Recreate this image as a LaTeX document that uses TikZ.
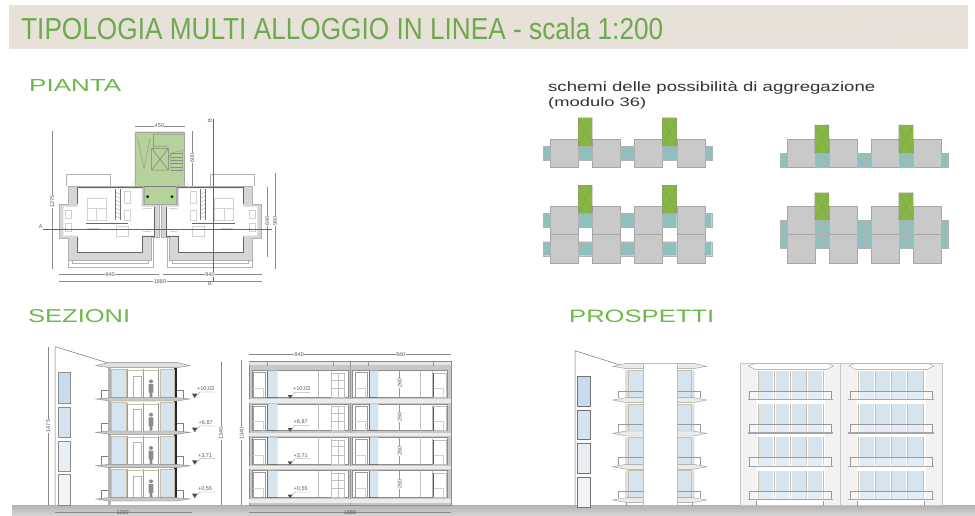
\documentclass[tikz,border=0pt]{standalone}
\usepackage{graphicx}
\usepackage{fontspec}
\setmainfont{Liberation Sans}
\definecolor{gtitle}{HTML}{6FA84F}
\definecolor{ghead}{HTML}{6CB84A}
\definecolor{banner}{HTML}{E7E1D8}
\definecolor{bgray}{HTML}{C9C9C9}
\definecolor{bteal}{HTML}{90C0BE}
\definecolor{bgreen}{HTML}{86B740}
\definecolor{stair}{HTML}{B5D29A}
\definecolor{glass}{HTML}{D6E4F0}
\definecolor{tan}{HTML}{C9BEA8}
\definecolor{wallg}{HTML}{D6D6D6}
\definecolor{dimc}{HTML}{8A8A8A}
\tikzset{
  dimlabel/.style={inner sep=0,font=\fontsize{5.5}{5.5}\selectfont,text=black!65},
  dimline/.style={draw=dimc,line width=0.35pt},
  thinl/.style={draw=black!30,line width=0.35pt},
  furn/.style={draw=black!18,line width=0.35pt},
  darkw/.style={draw=black!60,line width=0.8pt},
  grayblock/.style={fill=bgray,draw=black!35,line width=0.3pt},
  pane/.style={fill=glass,draw=tan,line width=0.7pt},
  zoomA/.style={shift={(0,60)},x=0.33333pt,y=-0.33333pt},
  zoomB/.style={shift={(520,70)},x=0.33333pt,y=-0.33333pt},
  zoomC/.style={shift={(20,330)},x=0.33333pt,y=-0.33333pt},
  zoomD/.style={shift={(235,340)},x=0.33333pt,y=-0.33333pt},
  zoomE/.style={shift={(560,340)},x=0.33333pt,y=-0.33333pt},
}
\newcommand{\planunit}{%
  \draw[thinl] (200,378)--(200,342)--(330,342)--(330,378);
  \draw[thinl] (205,600)--(205,622)--(460,622)--(460,535);
  \draw[thinl] (218,535)--(218,610)--(445,610)--(445,590);
  \fill[wallg,even odd rule] (205,378)--(430,378)--(430,432)--(478,432)--(478,533)--(455,533)--(455,600)--(205,600)--(205,535)--(178,535)--(178,432)--(205,432)--cycle
    (232,385)--(425,385)--(425,440)--(462,440)--(462,527)--(428,527)--(428,578)--(232,578)--(232,527)--(190,527)--(190,440)--(232,440)--cycle;
  \draw[thinl] (205,378)--(430,378)--(430,432)--(478,432)--(478,533)--(455,533)--(455,600)--(205,600)--(205,535)--(178,535)--(178,432)--(205,432)--cycle;
  \draw[darkw] (232,381)--(430,381) (232,381)--(232,432) (232,530)--(232,578)--(428,578)--(428,530)--(462,530) (462,440)--(462,530);
  \draw[darkw,line width=1.1pt] (258,490)--(385,490);
  \draw[draw=black!55,line width=0.6pt] (347,388)--(347,480) (362,388)--(362,480);
  \foreach \yy in {396,408,...,476} {\draw[draw=black!40,line width=0.3pt] (347,\yy)--(362,\yy+8);}
  \draw[furn] (262,415)--(318,415)--(318,482)--(262,482)--cycle (262,445)--(318,445) (290,445)--(290,482);
  \draw[furn] (372,395)--(392,395)--(392,430)--(372,430)--cycle (372,450)--(392,450)--(392,480)--(372,480)--cycle;
  \draw[furn] (350,500)--(385,500)--(385,530)--(350,530)--cycle (262,505)--(300,505) (430,445)--(455,445) (430,515)--(452,515);
  \draw[furn] (195,450)--(215,450)--(215,475)--(195,475)--cycle (195,490)--(215,490)--(215,515)--(195,515)--cycle;
  \draw[furn] (395,385) arc (180:270:35);
}
\newcommand{\persona}[2]{%
  \fill[black!45] (#1,#2-42) circle (6);
  \fill[black!45] (#1-7,#2-34) rectangle (#1+7,#2-8) (#1-4,#2-8) rectangle (#1+4,#2+6);
}
\begin{document}
\begin{tikzpicture}[x=1pt,y=-1pt]
\useasboundingbox (0,0) rectangle (975,515);
\fill[white] (0,0) rectangle (975,515);
% banner
\fill[banner] (9,5) rectangle (968,49);
\foreach \a/\b/\c in {30/20/240,120/30/330,640/12/850,800/27/940,860/16/960,180/40/500,520/36/900}
  {\draw[black!10,line width=0.6pt] (\a,\b)--(\c,\b);}
\node[anchor=base west,inner sep=0,text=gtitle] (title) at (21,39) {\resizebox{642pt}{22pt}{TIPOLOGIA MULTI ALLOGGIO IN LINEA - scala 1:200}};
% headers
\node[anchor=base west,inner sep=0,text=ghead] (hpianta) at (29,91) {\resizebox{92pt}{12pt}{PIANTA}};
\node[anchor=base west,inner sep=0,text=ghead] (hsez) at (28,322) {\resizebox{102pt}{13pt}{SEZIONI}};
\node[anchor=base west,inner sep=0,text=ghead] (hpro) at (569,322) {\resizebox{145pt}{12.5pt}{PROSPETTI}};
\node[anchor=base west,inner sep=0,text=black!80] (hsch1) at (548,91) {\resizebox{327pt}{10pt}{schemi delle possibilità di aggregazione}};
\node[anchor=base west,inner sep=0,text=black!80] (hsch2) at (548,106) {\resizebox{98pt}{9pt}{(modulo 36)}};
% ground
\fill[bottom color=black!17,top color=black!30] (12,505) rectangle (975,515);
% PLAN
\begin{scope}[zoomA]
  \planunit
  \begin{scope}[shift={(962,0)},xscale=-1]\planunit\end{scope}
  \fill[stair,draw=black!35,line width=0.3pt] (405,215)--(553,215)--(553,378)--(528,378)--(528,432)--(432,432)--(432,378)--(405,378)--cycle;
  \draw[black!50,line width=0.4pt] (432,378)--(528,378);
  \draw[black!50,line width=0.5pt] (455,265)--(505,265)--(505,330)--(455,330)--cycle (455,265)--(505,330) (505,265)--(455,330) (460,222)--(460,265) (460,222)--(550,222) (505,258)--(460,258);
  \draw[black!45,line width=0.4pt] (412,232)--(432,325)--(450,235);
  \foreach \yy in {280,290,...,330} {\draw[black!45,line width=0.3pt] (512,\yy)--(548,\yy);}
  \draw[black!45,line width=0.3pt] (505,300)--(512,280)--(548,270) (512,280)--(512,330) (548,270)--(548,330);
  \fill[black!75!green] (443,410) circle (5) (516,410) circle (5);
  % dims
  \draw[dimline] (157,213)--(157,628) (405,198)--(555,198) (577,213)--(577,378) (825,340)--(825,628) (802,380)--(802,590);
  \draw[dimline] (178,642)--(478,642) (490,642)--(785,642) (178,663)--(785,663);
  \draw[draw=black!60,line width=0.4pt] (130,508)--(815,508) (640,178)--(640,665);
  \node[dimlabel,rotate=90,fill=white,inner sep=0.5pt] (d1275) at (157,425) {1275};
  \node[dimlabel,fill=white,inner sep=0.5pt] (d450) at (478,198) {450};
  \node[dimlabel,rotate=90,fill=white,inner sep=0.5pt] (d600) at (577,295) {600};
  \node[dimlabel,rotate=90,fill=white,inner sep=0.5pt] (d640) at (802,483) {640};
  \node[dimlabel,rotate=90,fill=white,inner sep=0.5pt] (d960) at (825,483) {960};
  \node[dimlabel,fill=white,inner sep=0.5pt] (d940a) at (330,644) {940};
  \node[dimlabel,fill=white,inner sep=0.5pt] (d940b) at (630,644) {940};
  \node[dimlabel,fill=white,inner sep=0.5pt] (d1880) at (480,665) {1880};
  \node[dimlabel] (sa) at (122,500) {A};
  \node[dimlabel,rotate=90] (sb) at (630,181) {B};
  \node[dimlabel] (sb2) at (630,672) {B};
\end{scope}
% AGGREGATION SCHEMES
\begin{scope}[zoomB]
  % top left
  \foreach \a/\b in {90/173,217/300,342/427,470/554} {\fill[grayblock] (\a,207) rectangle (\b,291);}
  \foreach \a/\b in {69/90,174/217,300/342,427/470,554/575} {\fill[bteal] (\a,227) rectangle (\b,270); \draw[black!30,line width=0.3pt] (\a,227) rectangle (\b,270);}
  \foreach \a/\b in {175/217,427/470} {\fill[bgreen] (\a,143) rectangle (\b,228); \draw[black!45,line width=0.3pt] (\a,143) rectangle (\b,228) (\a,143)--(\b,228) (\b,143)--(\a,228);}
  \draw[black!30,line width=0.3pt] (195,228)--(195,270) (322,227)--(322,270) (448,228)--(448,270);
  % bottom left
  \foreach \a/\b in {90/173,217/300,342/427,470/554} {\fill[bgray] (\a,408) rectangle (\b,578); \draw[black!35,line width=0.3pt] (\a,408) rectangle (\b,578) (\a,493)--(\b,493);}
  \foreach \a/\b in {69/90,174/217,300/342,427/470,554/575} {\fill[bteal] (\a,430) rectangle (\b,472) (\a,515) rectangle (\b,557); \draw[black!30,line width=0.3pt] (\a,430) rectangle (\b,472) (\a,515) rectangle (\b,557);}
  \foreach \a/\b in {175/217,427/470} {\fill[bgreen] (\a,346) rectangle (\b,430); \draw[black!45,line width=0.3pt] (\a,346) rectangle (\b,430) (\a,346)--(\b,430) (\b,346)--(\a,430);}
  \draw[black!30,line width=0.3pt] (195,430)--(195,472) (322,430)--(322,472) (448,430)--(448,472) (195,515)--(195,557) (322,515)--(322,557) (448,515)--(448,557);
  % top right
  \foreach \a/\b in {800/884,927/1010,1052/1136,1180/1262} {\fill[bgray] (\a,207) rectangle (\b,291); \draw[black!35,line width=0.3pt] (\a,207) rectangle (\b,291);}
  \foreach \a/\b in {779/800,884/927,1010/1052,1136/1180,1262/1284} {\fill[bteal] (\a,249) rectangle (\b,291); \draw[black!30,line width=0.3pt] (\a,249) rectangle (\b,291);}
  \foreach \a/\b in {884/927,1136/1180} {\fill[bgreen] (\a,165) rectangle (\b,249); \draw[black!45,line width=0.3pt] (\a,165) rectangle (\b,249) (\a,165)--(\b,249) (\b,165)--(\a,249);}
  \draw[black!30,line width=0.3pt] (905,249)--(905,291) (1031,249)--(1031,291) (1158,249)--(1158,291);
  % bottom right
  \foreach \a/\b in {800/884,927/1010,1052/1136,1180/1262} {\fill[bgray] (\a,408) rectangle (\b,578); \draw[black!35,line width=0.3pt] (\a,408) rectangle (\b,578) (\a,493)--(\b,493);}
  \foreach \a/\b in {779/800,884/927,1010/1052,1136/1180,1262/1284} {\fill[bteal] (\a,450) rectangle (\b,535); \draw[black!30,line width=0.3pt] (\a,450) rectangle (\b,535) (\a,493)--(\b,493);}
  \foreach \a/\b in {884/927,1136/1180} {\fill[bgreen] (\a,368) rectangle (\b,450); \draw[black!45,line width=0.3pt] (\a,368) rectangle (\b,450) (\a,368)--(\b,450) (\b,368)--(\a,450);}
  \draw[black!30,line width=0.3pt] (905,450)--(905,535) (1031,450)--(1031,535) (1158,450)--(1158,535);
\end{scope}
% SECTION 1
\begin{scope}[zoomC]
  \draw[black!55,line width=0.5pt] (105,525)--(105,50)--(268,100);
  \foreach \t/\b/\c in {128/220/C9DCEF,232/322/D5E3F1,333/423/E9EEF5,433/525/F3F4F6}
    {\definecolor{wcol}{HTML}{\c}\fill[wcol] (115,\t) rectangle (150,\b); \draw[black!45,line width=0.5pt] (115,\t) rectangle (150,\b);}
  \fill[black!12] (228,107)--(268,97)--(470,97)--(510,107)--(470,113)--(268,113)--cycle;
  \draw[black!45,line width=0.4pt] (228,107)--(268,97)--(470,97)--(510,107)--(470,113)--(268,113)--cycle;
  \fill[black!30] (265,113) rectangle (272,525);
  \fill[black!85] (463,113) rectangle (470,505);
  \foreach \yy in {0,100,200,300} {
    \fill[pane] (275,118+\yy) rectangle (318,203+\yy) (420,118+\yy) rectangle (462,203+\yy);
    \draw[black!40,line width=0.4pt] (322,118+\yy)--(322,203+\yy) (370,118+\yy)--(370,203+\yy) (415,118+\yy)--(415,203+\yy);
    \draw[tan,line width=0.6pt] (322,122+\yy)--(415,122+\yy);
    \draw[black!30,line width=0.4pt] (340,203+\yy)--(340,138+\yy)--(365,138+\yy)--(365,203+\yy);
    \persona{393}{196+\yy}
    \draw[black!50,line width=0.5pt] (245,207+\yy)--(245,180+\yy)--(265,180+\yy) (470,180+\yy)--(490,180+\yy)--(490,207+\yy);
    \fill[black!22] (228,207+\yy)--(268,203+\yy)--(470,203+\yy)--(510,207+\yy)--(470,213+\yy)--(268,213+\yy)--cycle;
    \draw[black!45,line width=0.4pt] (228,207+\yy)--(268,203+\yy)--(470,203+\yy)--(510,207+\yy)--(470,213+\yy)--(268,213+\yy)--cycle;
  }
  \foreach \yy/\lab/\xx in {178/+10{,}03/555,280/+6{,}87/555,378/+3{,}71/553,478/+0{,}55/553} {
    \fill[black!70] (516,\yy+13)--(532,\yy+13)--(524,\yy+26)--cycle;
    \draw[black!50,line width=0.3pt] (524,\yy+26)--(540,\yy+8)--(585,\yy+8);
    \node[dimlabel] at (\xx+2,\yy) {\lab};
  }
  \draw[dimline] (85,50)--(85,525) (603,95)--(603,525) (665,90)--(665,525) (105,548)--(515,548);
  \node[dimlabel,rotate=90,fill=white,inner sep=0.5pt] (s1475) at (85,288) {1475};
  \node[dimlabel,rotate=90,fill=white,inner sep=0.5pt] (s1340a) at (603,310) {1340};
  \node[dimlabel,rotate=90,fill=white,inner sep=0.5pt] (s1340b) at (665,310) {1340};
  \node[dimlabel] (s1260) at (308,547) {1260};
\end{scope}
% SECTION 2
\begin{scope}[zoomD]
  \fill[black!22] (42,65) rectangle (648,495);
  \draw[black!45,line width=0.4pt] (42,65) rectangle (648,495);
  \fill[black!10] (42,65) rectangle (648,76);
  \draw[black!40,line width=0.3pt] (345,65)--(345,495) (95,65)--(95,78) (295,65)--(295,78) (400,65)--(400,78) (595,65)--(595,78);
  \foreach \yy in {0,100,200,300} {
    \fill[white] (52,92+\yy) rectangle (340,172+\yy) (352,92+\yy) rectangle (638,172+\yy);
    \draw[black!45,line width=0.35pt] (52,92+\yy) rectangle (340,172+\yy) (352,92+\yy) rectangle (638,172+\yy);
    \fill[black!8] (42,178+\yy) rectangle (648,188+\yy);
    \draw[black!40,line width=0.35pt] (55,98+\yy) rectangle (92,172+\yy) (360,98+\yy) rectangle (397,172+\yy);
    \draw[furn] (55,145+\yy)--(85,145+\yy)--(85,172+\yy) (360,145+\yy)--(390,145+\yy)--(390,172+\yy);
    \fill[glass] (98,92+\yy) rectangle (128,172+\yy) (402,92+\yy) rectangle (430,172+\yy);
    \draw[tan!60!black,line width=0.8pt] (98,92+\yy)--(98,172+\yy)--(128,172+\yy) (402,92+\yy)--(402,172+\yy)--(430,172+\yy);
    \draw[black!25,line width=0.35pt] (250,92+\yy)--(250,172+\yy) (288,92+\yy)--(288,172+\yy) (556,92+\yy)--(556,172+\yy) (592,92+\yy)--(592,172+\yy);
    \draw[black!25,line width=0.35pt] (290,100+\yy) rectangle (328,172+\yy) (290,120+\yy)--(328,120+\yy) (290,145+\yy)--(328,145+\yy) (310,100+\yy)--(310,172+\yy) (595,100+\yy) rectangle (635,172+\yy);
    \draw[black!65,line width=0.7pt] (595,100+\yy)--(595,172+\yy);
    \draw[furn] (597,145+\yy)--(625,145+\yy)--(625,172+\yy);
    \draw[black!40,line width=0.35pt] (494,92+\yy)--(494,172+\yy);
  }
  \foreach \yy/\lab/\xx in {148/+10{,}03/200,247/+6{,}87/197,347/+3{,}71/197,447/+0{,}55/197} {
    \fill[black!70] (158,\yy+17)--(172,\yy+17)--(165,\yy+28)--cycle;
    \draw[black!50,line width=0.3pt] (165,\yy+28)--(180,\yy+9)--(225,\yy+9);
    \node[dimlabel] at (\xx,\yy) {\lab};
  }
  \foreach \yy in {130,232,332,433} {\node[dimlabel,rotate=90,fill=white,inner sep=0.5pt] at (494,\yy) {260};}
  \draw[dimline] (42,42)--(345,42) (345,42)--(648,42) (20,60)--(20,495) (42,518)--(648,518);
  \node[dimlabel,fill=white,inner sep=0.5pt] (t940a) at (193,44) {940};
  \node[dimlabel,fill=white,inner sep=0.5pt] (t940b) at (497,44) {940};
  \node[dimlabel,rotate=90,fill=white,inner sep=0.5pt] (t1340) at (20,280) {1340};
  \node[dimlabel] (t1880) at (345,519) {1880};
\end{scope}
% ELEVATIONS
\begin{scope}[zoomE]
  % side
  \draw[black!55,line width=0.5pt] (45,495)--(45,32)--(180,75);
  \foreach \t/\b/\c in {108/198/C9DCEF,210/298/D5E3F1,311/401/E9EEF5,413/503/F1F2F5}
    {\definecolor{wcol}{HTML}{\c}\fill[wcol] (53,\t) rectangle (90,\b); \draw[black!55,line width=0.6pt] (53,\t) rectangle (90,\b);}
  \foreach \yy in {0,100,200,300} {
    \fill[glass] (205,92+\yy) rectangle (250,178+\yy) (350,92+\yy) rectangle (395,178+\yy);
    \fill[black!12] (195,92+\yy) rectangle (205,178+\yy) (395,92+\yy) rectangle (404,178+\yy);
    \draw[tan,line width=0.8pt] (205,92+\yy)--(205,178+\yy) (395,92+\yy)--(395,178+\yy) (205,92+\yy)--(250,92+\yy) (350,92+\yy)--(395,92+\yy);
    \draw[black!40,line width=0.4pt] (175,175+\yy)--(175,153+\yy)--(422,153+\yy)--(422,175+\yy);
    \fill[black!8] (158,180+\yy)--(200,173+\yy)--(400,173+\yy)--(440,180+\yy)--(400,188+\yy)--(200,188+\yy)--cycle;
    \draw[black!40,line width=0.4pt] (158,180+\yy)--(200,173+\yy)--(400,173+\yy)--(440,180+\yy)--(400,188+\yy)--(200,188+\yy)--cycle;
  }
  \fill[black!8] (158,79)--(200,70)--(400,70)--(440,79)--(400,86)--(200,86)--cycle;
  \draw[black!40,line width=0.4pt] (158,79)--(200,70)--(400,70)--(440,79)--(400,86)--(200,86)--cycle;
  \fill[white] (250,68) rectangle (350,495);
  \draw[black!25,line width=0.3pt] (250,68) rectangle (350,495);
  \draw[black!40,line width=0.4pt] (198,488)--(198,497) (398,488)--(398,497);
  % front
  \fill[black!5] (540,68) rectangle (1145,495);
  \draw[black!22,line width=0.3pt] (540,68) rectangle (840,495) (840,68) rectangle (1145,495);
  \foreach \ox in {0,302} {
    \fill[white] (590+\ox,90) rectangle (795+\ox,495);
    \foreach \yy in {0,100,200,300} {
      \foreach \a/\b in {597/640,647/688,695/737,743/787} {
        \fill[glass] (\a+\ox,92+\yy) rectangle (\b+\ox,178+\yy);
      }
      \foreach \a in {594,643,691,740,789} {\draw[tan,line width=1pt] (\a+\ox,92+\yy)--(\a+\ox,176+\yy);}
      \fill[white,fill opacity=0.35] (568+\ox,153+\yy) rectangle (815+\ox,178+\yy);
      \draw[black!40,line width=0.4pt] (568+\ox,178+\yy)--(568+\ox,153+\yy)--(815+\ox,153+\yy)--(815+\ox,178+\yy);
      \fill[black!35] (563+\ox,177+\yy) rectangle (820+\ox,181+\yy);
    }
    \fill[black!18] (585+\ox,68) rectangle (800+\ox,75);
    \fill[white] (565+\ox,78)--(585+\ox,70)--(800+\ox,70)--(820+\ox,78)--(800+\ox,88)--(585+\ox,88)--cycle;
    \draw[black!40,line width=0.4pt] (565+\ox,78)--(585+\ox,70)--(800+\ox,70)--(820+\ox,78)--(800+\ox,88)--(585+\ox,88)--cycle;
    \draw[black!40,line width=0.4pt] (590+\ox,483)--(590+\ox,497) (790+\ox,483)--(790+\ox,497);
  }
\end{scope}
\end{tikzpicture}
\end{document}
